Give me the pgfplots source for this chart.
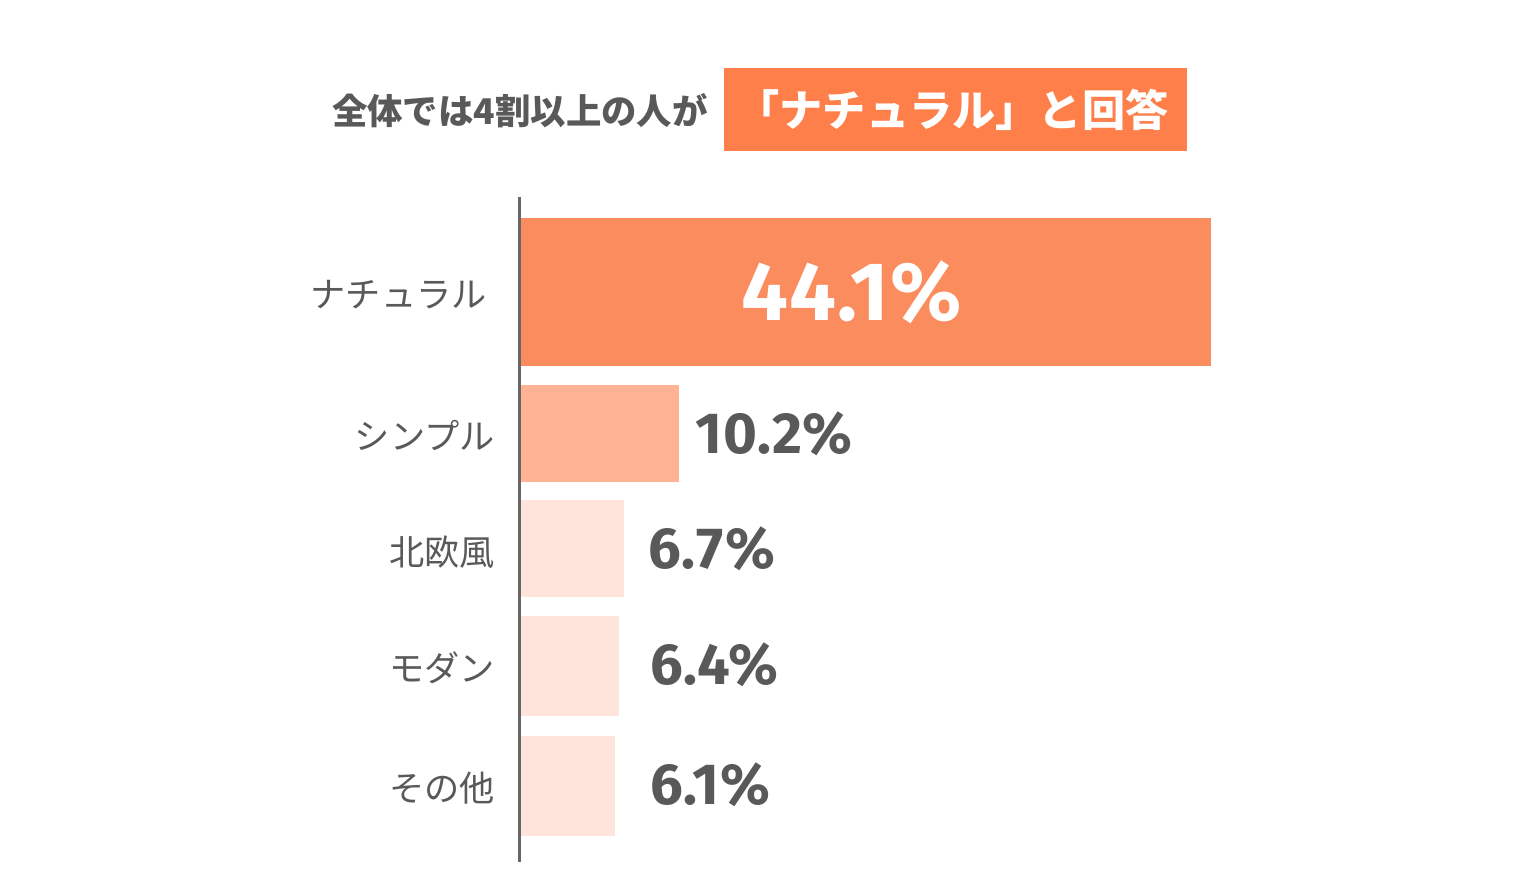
\documentclass[border=0pt]{standalone}
\usepackage{fontspec}
\usepackage{pgfplots}
\pgfplotsset{compat=1.18}
\setmainfont{Fira Sans}
\newfontfamily\jp{Noto Sans CJK JP}
\newfontfamily\num{Fira Sans}[LetterSpace=1.5]

\definecolor{boxor}{HTML}{FF7F4A}
\definecolor{barA}{HTML}{FA8C5E}
\definecolor{barB}{HTML}{FFB394}
\definecolor{barC}{HTML}{FFE4DC}
\definecolor{txt}{HTML}{595959}
\definecolor{axl}{HTML}{666666}

\begin{document}
\begin{tikzpicture}
\begin{axis}[
  x=7.845pt, y=0.5pt, y dir=reverse,
  xmin=-33.08, xmax=63.80, ymin=0, ymax=894,
  axis lines=none, ticks=none, clip=false,
  xbar, bar shift=0pt,
]
% bounding frame (1520 x 894 px)
\path (axis cs:-33.08,0) rectangle (axis cs:63.80,894);

\addplot[xbar, fill=barA, draw=none, bar width=148] coordinates {(44.1,292)};
\addplot[xbar, fill=barB, draw=none, bar width=97]  coordinates {(10.2,433.5)};
\addplot[xbar, fill=barC, draw=none, bar width=97]  coordinates {(6.7,548.5)};
\addplot[xbar, fill=barC, draw=none, bar width=100] coordinates {(6.4,666)};
\addplot[xbar, fill=barC, draw=none, bar width=100] coordinates {(6.1,786)};

\draw[axl, line width=1.5pt] (axis cs:0,197) -- (axis cs:0,862);

% category labels
\begin{scope}[every node/.style={anchor=east, text=txt, font=\jp\fontsize{17.6}{20}\selectfont, inner sep=0pt}]
\node at (axis cs:-2.04,295) {ナチュラル};
\node at (axis cs:-1.53,435) {シンプル};
\node at (axis cs:-1.53,552) {北欧風};
\node at (axis cs:-1.53,668) {モダン};
\node at (axis cs:-1.53,788) {その他};
\end{scope}

% values
\node[text=white, font=\num\bfseries\fontsize{41.5}{44}\selectfont, inner sep=0pt] at (axis cs:21.2,292) {44.1\%};
\begin{scope}[every node/.style={anchor=west, text=txt, font=\num\bfseries\fontsize{29}{32}\selectfont, inner sep=0pt}]
\node at (axis cs:11.22,434) {10.2\%};
\node at (axis cs:8.22,549) {6.7\%};
\node at (axis cs:8.35,665) {6.4\%};
\node at (axis cs:8.35,785) {6.1\%};
\end{scope}

% heading
\node[anchor=east, text=txt, font=\jp\bfseries\fontsize{17.7}{20}\selectfont, inner sep=0pt] at (axis cs:12.05,111) {全体では4割以上の人が};
\node[fill=boxor, text=white, minimum width=231.5pt, minimum height=41.5pt, inner sep=0pt,
      font=\jp\bfseries\fontsize{21.6}{24}\selectfont] at (axis cs:27.82,109.5) {\hspace*{-3pt}「ナチュラル」と回答};
\end{axis}
\end{tikzpicture}
\end{document}
